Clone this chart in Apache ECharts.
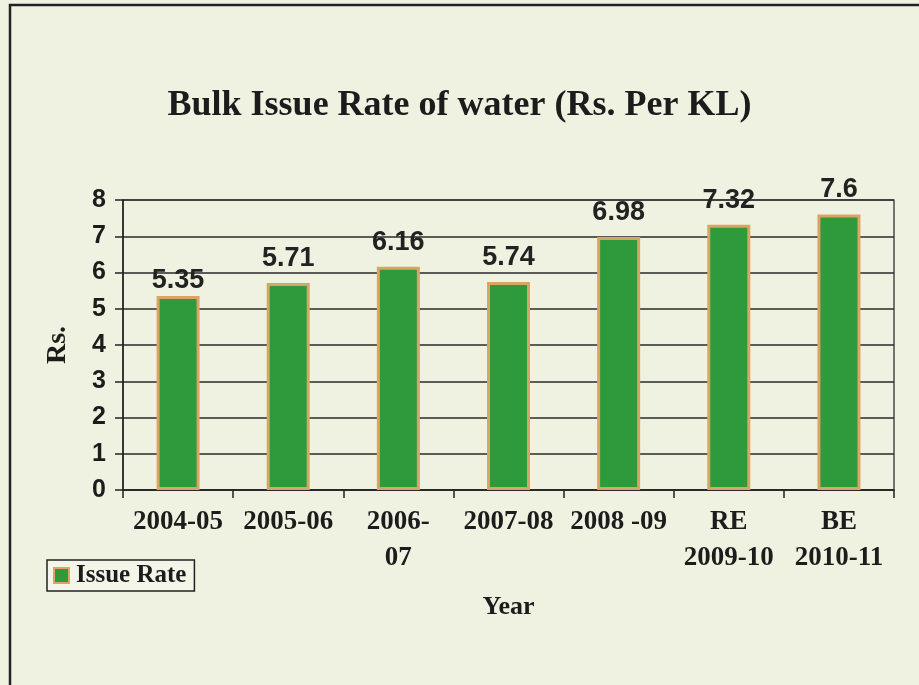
<!DOCTYPE html>
<html>
<head>
<meta charset="utf-8">
<script src="https://cdn.jsdelivr.net/npm/echarts@6/dist/echarts.min.js"></script>
<style>
html,body{margin:0;padding:0;background:#eff2e0;}
#c{width:919px;height:685px;}
</style>
</head>
<body>
<div id="c"></div>
<script>
const categories = ['2004-05', '2005-06', '2006-\n07', '2007-08', '2008 -09', 'RE\n2009-10', 'BE\n2010-11'];
const issueRate = [5.35, 5.71, 6.16, 5.74, 6.98, 7.32, 7.6];
const yTicks = [0, 1, 2, 3, 4, 5, 6, 7, 8];
const titleText = 'Bulk Issue Rate of water (Rs. Per KL)';
const seriesName = 'Issue Rate';

const chart = echarts.init(document.getElementById('c'));
const serif = 'Liberation Serif';
const sans = 'Liberation Sans';

chart.setOption({
  backgroundColor: '#eff2e0',
  animation: false,
  title: {
    text: titleText,
    left: 'center',
    top: 83,
    textStyle: { fontFamily: serif, fontWeight: 'bold', fontSize: 36, color: '#1c1c1c' }
  },
  graphic: [{
    type: 'rect',
    shape: { x: 10, y: 5, width: 1000, height: 800 },
    style: { fill: 'none', stroke: '#222', lineWidth: 2.5 },
    silent: true
  }],
  legend: {
    left: 47,
    top: 560,
    data: [seriesName],
    icon: 'rect',
    itemWidth: 15,
    itemHeight: 15,
    itemGap: 6,
    padding: [3, 8, 3, 6],
    borderColor: '#222',
    borderWidth: 1.5,
    backgroundColor: '#f3f5e8',
    textStyle: { fontFamily: serif, fontWeight: 'bold', fontSize: 25, color: '#1c1c1c', padding: [0, 0, 0, 2] }
  },
  grid: {
    left: 123, right: 25, top: 200, bottom: 195,
    show: true, borderColor: '#222', borderWidth: 1.2, backgroundColor: 'transparent'
  },
  xAxis: {
    type: 'category',
    data: categories,
    name: 'Year',
    nameLocation: 'middle',
    nameGap: 104,
    nameTextStyle: { fontFamily: serif, fontWeight: 'bold', fontSize: 26, color: '#1c1c1c' },
    axisLine: { lineStyle: { color: '#222', width: 1.5 } },
    axisTick: { show: true, length: 8, alignWithLabel: false, lineStyle: { color: '#222', width: 1.5 } },
    axisLabel: {
      interval: 0,
      margin: 14,
      fontFamily: serif, fontWeight: 'bold', fontSize: 27, color: '#1c1c1c',
      lineHeight: 36
    }
  },
  yAxis: {
    type: 'value',
    min: yTicks[0],
    max: yTicks[yTicks.length - 1],
    interval: 1,
    name: 'Rs.',
    nameLocation: 'middle',
    nameGap: 51,
    nameRotate: 90,
    nameTextStyle: { fontFamily: serif, fontWeight: 'bold', fontSize: 28, color: '#1c1c1c' },
    axisLine: { show: true, lineStyle: { color: '#222', width: 1.5 } },
    axisTick: { show: true, inside: false, length: 8, lineStyle: { color: '#222', width: 1.5 } },
    axisLabel: { margin: 17, fontFamily: sans, fontWeight: 'bold', fontSize: 25, color: '#1c1c1c' },
    splitLine: { show: true, lineStyle: { color: '#2a2a2a', width: 1.5 } }
  },
  series: [{
    name: seriesName,
    type: 'bar',
    data: issueRate.map((v, i) => i === 0 ? { value: v, label: { distance: 2 } } : v),
    barWidth: 43,
    itemStyle: { color: '#2e9a3b', borderColor: '#d9a465', borderWidth: 3 },
    label: {
      show: true,
      position: 'top',
      distance: 11,
      fontFamily: sans, fontWeight: 'bold', fontSize: 27, color: '#222'
    }
  }]
});
</script>
</body>
</html>
